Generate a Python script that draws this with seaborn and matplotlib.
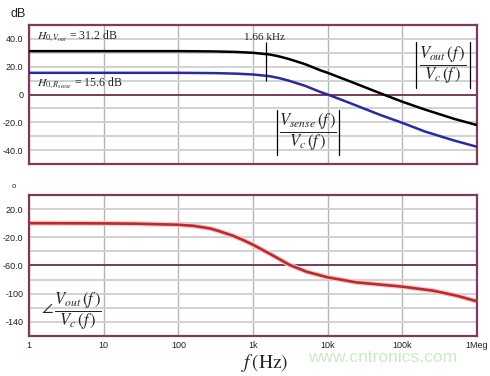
"""Bode plot: magnitude and phase of Vout/Vc and Vsense/Vc."""

import matplotlib
matplotlib.use('Agg')
import matplotlib.pyplot as plt
import seaborn as sns
import pandas as pd
from matplotlib.ticker import FixedLocator, NullFormatter

# magnitude curves (dB)
freq_mag = [1, 10, 100, 300, 600, 1000, 1660, 2200, 3000, 5000, 8000, 10000,
            20000, 50000, 100000, 200000, 500000, 1000000]
mag_vout = [31.2, 31.2, 31.2, 31.0, 30.6, 30.0, 28.8, 27.5, 25.6, 21.8, 17.4, 15.6,
            9.4, 1.0, -5.2, -10.8, -17.6, -22.0]
mag_vsense = [15.6, 15.6, 15.6, 15.4, 15.0, 14.4, 13.2, 11.9, 10.0, 6.2, 1.8, 0.0,
              -6.2, -14.6, -20.4, -26.6, -33.2, -37.6]

# phase of Vout/Vc (degrees)
freq_ph = [1, 10, 30, 100, 158, 265, 360, 540, 740, 1000, 1860, 3100, 5200, 10000,
           24000, 100000, 258000, 532000, 1000000]
phase = [0, -0.3, -0.8, -2.2, -3.7, -7.4, -11.6, -17.8, -24.0, -30.6, -46.0, -59.2,
         -68.8, -76.8, -83.9, -90.0, -95.7, -102.8, -110.8]

x_ticks = [1, 10, 100, 1000, 10000, 100000, 1000000]
x_labels = ["1", "10", "100", "1k", "10k", "100k", "1Meg"]
mag_ticks = [-40, -20, 0, 20, 40]
mag_labels = ["-40.0", "-20.0", "0", "20.0", "40.0"]
ph_ticks = [-140, -100, -60, -20, 20]
ph_labels = ["-140", "-100", "-60.0", "-20.0", "20.0"]
marker_f = 1500

sns.set_style("white")
plt.rcParams['font.family'] = ['Liberation Sans', 'DejaVu Sans']
plt.rcParams['mathtext.fontset'] = 'stix'

MAROON = "#7d3a5c"
GRID = "#d2d2d2"
VGRID = "#b4b4b4"

fig = plt.figure(figsize=(4.9, 3.76), dpi=100)
ax1 = fig.add_axes([0.0592, 0.5638, 0.9143, 0.3697])
ax2 = fig.add_axes([0.0592, 0.1064, 0.9143, 0.375])

mag_df = pd.DataFrame({"f": freq_mag, "vout": mag_vout, "vsense": mag_vsense})
ph_df = pd.DataFrame({"f": freq_ph, "phase": phase})


def style_axis(ax, yticks, ylabels, minor_y, ylim, thick_y):
    ax.set_xscale('log')
    ax.set_xlim(1, 1e6)
    ax.set_ylim(*ylim)
    ax.set_yticks(yticks)
    ax.set_yticklabels(ylabels)
    ax.yaxis.set_minor_locator(FixedLocator(minor_y))
    ax.set_xticks(x_ticks)
    minor_x = [m * 10 ** d for d in range(6) for m in range(2, 10)]
    ax.xaxis.set_minor_locator(FixedLocator(minor_x))
    ax.xaxis.set_minor_formatter(NullFormatter())
    ax.grid(axis='y', which='both', color=GRID, linewidth=1.4, zorder=0)
    ax.grid(axis='x', which='major', color=VGRID, linewidth=1.0, zorder=0)
    ax.axhline(thick_y, color=MAROON, linewidth=1.4, zorder=1)
    ax.set_axisbelow(True)
    for sp in ax.spines.values():
        sp.set_color(MAROON)
        sp.set_linewidth(1.6)
    ax.tick_params(axis='y', length=0, labelsize=6.5, pad=4, colors="#222222")
    ax.tick_params(axis='x', which='major', length=0, labelsize=6.5, colors="#222222")
    ax.tick_params(axis='x', which='minor', direction='in', length=2.5,
                   color="#d7a9bd", width=0.8)
    ax.set_xlabel("")
    ax.set_ylabel("")


def abs_bars(ax, x0, x1, y0, y1):
    # thin |...| bars around a fraction, in axes coordinates
    for xb in (x0, x1):
        ax.plot([xb, xb], [y0, y1], color="black", linewidth=0.9,
                transform=ax.transAxes, zorder=5)


# magnitude panel
sns.lineplot(data=mag_df, x="f", y="vout", ax=ax1, color="black", linewidth=1.8, zorder=3)
sns.lineplot(data=mag_df, x="f", y="vsense", ax=ax1, color="#2a2aa0", linewidth=1.8, zorder=3)
style_axis(ax1, mag_ticks, mag_labels, [-30, -10, 10, 30], (-50, 50), 0)
ax1.set_xticklabels([])

ax1.text(0.018, 0.921, r"$H_{0,V_{out}}$ = 31.2 dB", transform=ax1.transAxes,
         fontsize=8.5, family='Liberation Serif', va='center', ha='left')
ax1.text(0.018, 0.583, r"$H_{0,R_{sense}}$ = 15.6 dB", transform=ax1.transAxes,
         fontsize=8.5, family='Liberation Serif', va='center', ha='left')
ax1.vlines(marker_f, 9.5, 38, color="black", linewidth=0.9, zorder=4)
ax1.text(marker_f * 0.95, 41, "1.66 kHz", fontsize=8, family='Liberation Serif',
         ha='center', va='center')
ax1.text(0.924, 0.712, r"$\dfrac{V_{out}\,(f\,)}{V_c\,(f\,)}$",
         transform=ax1.transAxes, fontsize=12, ha='center', va='center')
abs_bars(ax1, 0.863, 0.984, 0.547, 0.878)
ax1.text(0.622, 0.228, r"$\dfrac{V_{sense}\,(f\,)}{V_c\,(f\,)}$",
         transform=ax1.transAxes, fontsize=12, ha='center', va='center')
abs_bars(ax1, 0.553, 0.692, 0.065, 0.388)

# phase panel
sns.lineplot(data=ph_df, x="f", y="phase", ax=ax2, color="#f5c8c8", linewidth=3.6, zorder=2)
sns.lineplot(data=ph_df, x="f", y="phase", ax=ax2, color="#c0282c", linewidth=1.9, zorder=3)
style_axis(ax2, ph_ticks, ph_labels, [-160, -120, -80, -40, 0], (-160, 40), -60)
ax2.set_xticklabels(x_labels)
ax2.text(0.094, 0.177, r"$\angle\,\dfrac{V_{out}\,(f\,)}{V_c\,(f\,)}$",
         transform=ax2.transAxes, fontsize=12, ha='center', va='center')

fig.text(0.022, 0.963, "dB", fontsize=9, color="#222222", va='center', ha='left')
fig.text(0.029, 0.503, "o", fontsize=5.5, color="#222222", va='center', ha='center')
fig.text(0.541, 0.034, r"$f\,(\mathrm{Hz})$", fontsize=14, ha='center', va='center')
fig.text(0.78, 0.05, "www.cntronics.com", fontsize=12.5, color="#cde8c8",
         ha='center', va='center')

plt.savefig("out.png", dpi=100)
plt.close()
